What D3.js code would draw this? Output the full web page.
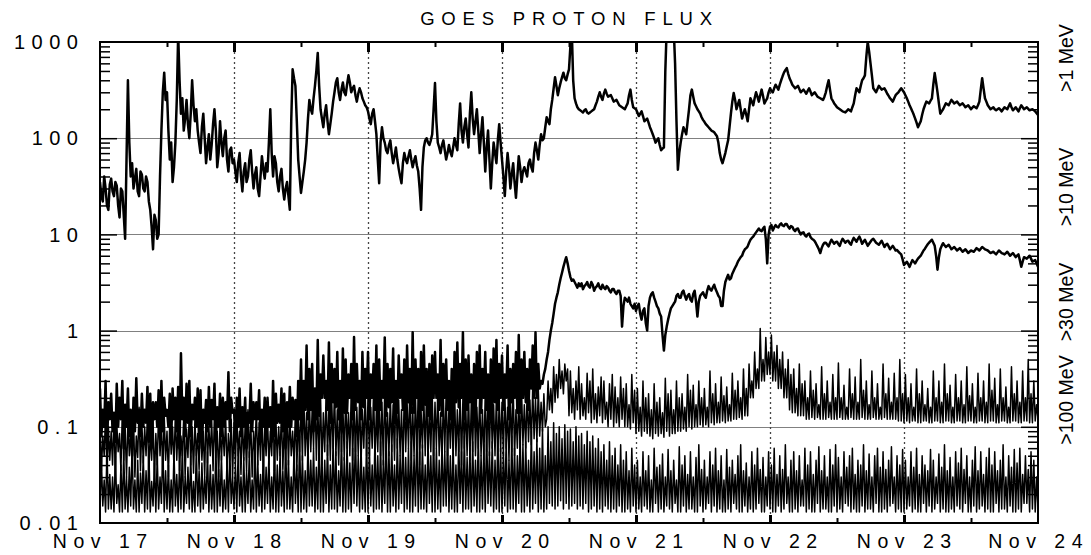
<!DOCTYPE html>
<html><head><meta charset="utf-8">
<script src="https://cdn.jsdelivr.net/npm/d3@7"></script>
<style>body{margin:0;background:#fff}svg{display:block}</style>
</head><body>
<svg id="c" width="1091" height="555"></svg>
<script>
// ---- data (15-minute samples from Nov 17 00:00 UT) ----
const startTime = new Date(Date.UTC(2001, 10, 17));
const stepMinutes = 15;
const dayLabels = ["Nov 17","Nov 18","Nov 19","Nov 20","Nov 21","Nov 22","Nov 23","Nov 24"];
const yTickValues = [1000, 100, 10, 1, 0.1, 0.01];
const yTickLabels = ["1000", "100", "10", "1", "0.1", "0.01"];
const channelLabels = [">1 MeV", ">10 MeV", ">30 MeV", ">100 MeV"];
const titleText = "GOES PROTON FLUX";

const flux1MeV = [
35,25,22,40,30,20,18,33,38,28,25,35,32,20,15,30,28,16,9,60,400,90,40,55,30,38,48,28,25,45,42,30,28,40,35,22,18,12,7,16,14,9,10,40,120,300,480,250,300,120,60,90,35,50,90,250,1200,400,180,260,120,160,250,140,100,180,400,220,150,200,120,90,70,130,180,100,55,80,110,60,85,140,200,120,50,70,150,90,65,100,120,60,45,75,80,55,
60,45,35,55,70,40,28,45,55,35,40,60,75,45,30,42,50,30,25,40,65,48,38,55,45,90,200,70,40,65,55,35,28,40,48,30,23,30,35,25,18,150,520,420,350,150,60,40,27,35,45,60,90,160,250,200,180,260,350,500,770,350,200,160,130,180,220,150,110,140,180,240,300,380,420,300,250,320,380,300,280,360,450,380,300,330,350,280,240,290,330,300,260,240,220,210,
190,160,140,180,200,150,110,60,34,90,130,100,90,75,70,85,95,70,55,65,80,60,48,40,34,55,70,60,55,65,75,60,50,58,65,52,45,30,18,50,80,95,100,90,85,95,110,200,375,150,90,80,70,85,95,75,60,70,85,72,65,80,100,85,75,140,230,120,90,130,160,110,80,180,300,160,110,150,200,120,70,110,165,90,45,80,120,60,30,55,90,70,55,95,140,90,
60,40,25,45,70,50,30,42,55,35,24,40,65,50,35,45,50,45,40,55,60,50,45,70,90,75,60,85,110,95,100,130,165,150,140,200,250,330,430,350,280,330,380,430,480,420,400,460,520,900,1300,400,260,230,210,200,195,190,185,195,200,185,180,185,190,195,200,220,240,270,300,270,250,290,320,290,270,275,280,260,240,245,250,235,220,215,210,205,200,215,230,280,320,250,210,205,
200,185,170,180,190,170,150,155,160,145,130,120,110,100,90,95,100,85,75,78,80,500,1400,1400,1400,1400,1400,1400,600,150,47,70,90,110,130,120,110,150,200,280,320,270,230,215,200,190,180,165,155,148,140,135,130,125,120,118,115,110,105,90,70,60,55,62,70,82,95,130,180,240,295,250,200,225,250,200,160,180,200,175,150,200,260,240,220,260,300,270,240,280,320,275,230,245,260,300,
330,310,300,330,360,340,320,360,400,440,480,510,535,470,420,390,360,345,330,340,350,325,300,310,320,305,290,310,330,305,280,290,300,285,270,265,260,255,250,270,300,350,400,320,260,245,230,220,210,205,200,195,190,188,185,192,200,195,190,210,230,280,330,315,300,350,400,420,450,700,1000,800,600,450,330,315,300,325,350,335,320,325,330,310,290,275,260,250,240,260,280,290,300,315,330,315,
300,280,260,240,220,205,190,175,160,145,130,140,150,175,200,220,240,235,230,245,260,360,475,380,300,230,180,190,200,215,230,225,220,235,250,240,230,235,240,230,220,225,230,220,210,215,220,210,200,208,215,210,205,220,240,320,420,330,260,240,220,210,200,205,210,200,195,200,205,198,190,200,210,205,200,215,230,210,195,202,210,200,190,205,220,210,200,205,210,202,195,198,200,195,190,182,
175
];
const flux10MeV = [
.25,.08,.15,.1,.3,.06,.18,.12, .22,.09,.14,.07,.28,.1,.2,.12, .3,.06,.17,.1,.25,.08,.15,.05, .2,.09,.32,.11,.15,.08,.22,.1,
.15,.11,.26,.07,.22,.06,.18,.12, .18,.1,.24,.08,.3,.09,.2,.13, .15,.1,.22,.07,.25,.12,.2,.09, .26,.06,.58,.12,.2,.08,.28,.11,
.3,.08,.17,.12,.2,.1,.25,.07, .24,.06,.15,.11,.19,.09,.26,.1, .19,.12,.28,.07,.16,.1,.22,.08, .2,.1,.18,.12,.37,.09,.2,.14,
.15,.07,.2,.1,.25,.08,.16,.1, .2,.06,.14,.11,.28,.09,.18,.12, .18,.12,.24,.07,.15,.1,.2,.08, .2,.1,.16,.07,.3,.08,.22,.11,
.17,.11,.25,.09,.22,.06,.18,.1, .26,.1,.2,.12,.19,.08,.3,.12, .5,.1,.3,.15,.7,.12,.4,.15, .45,.09,.25,.12,.8,.13,.35,.2,
.55,.2,.3,.15,.75,.11,.45,.18, .4,.16,.6,.12,.3,.1,.65,.14, .5,.14,.35,.2,.45,.12,.86,.15, .45,.18,.3,.12,.6,.16,.4,.2,
.6,.12,.35,.2,.45,.15,.7,.1, .5,.15,.3,.2,.85,.13,.45,.16, .4,.18,.65,.11,.3,.14,.55,.2, .35,.15,.5,.12,.7,.18,.4,.14,
.96,.14,.5,.2,.4,.1,.6,.15, .7,.17,.4,.13,.45,.12,.55,.2, .6,.2,.35,.15,.8,.13,.45,.2, .5,.15,.3,.12,.4,.11,.6,.18,
.75,.16,.45,.2,.96,.12,.5,.15, .55,.18,.35,.12,.45,.1,.6,.2, .7,.14,.4,.2,.6,.15,.35,.12, .5,.12,.65,.18,.8,.15,.45,.2,
.55,.15,.35,.2,.7,.12,.4,.18, .45,.2,.6,.14,.9,.14,.5,.2, .6,.18,.4,.15,.5,.25,.7,.2, .96,.2,.45,.25,.3,.28,.35,.4,
.5,.6,.8,1.0,1.2,1.5,1.9,2.2, 2.5,3.0,3.5,4.0,4.6,5.2,5.8,5.0, 4.2,3.6,3.3,3.4,3.2,3.0,2.8,3.1, 2.9,3.1,2.7,2.9,3.0,3.2,2.9,2.8,
3.2,3.0,2.6,2.8,2.9,3.1,2.8,2.7, 3.0,2.8,2.7,2.9,2.8,2.6,2.5,2.7, 2.7,2.5,2.4,2.6,2.6,2.3,1.1,1.8, 2.2,2.1,2.0,2.2,1.9,1.8,1.7,1.9,
1.6,1.8,1.9,1.5,1.3,1.6,1.7,1.2, 1.0,1.8,2.2,2.4,2.5,2.2,2.0,1.8, 1.7,1.5,1.4,0.9,0.62,0.9,1.1,1.3, 1.5,1.7,1.8,1.9,2.0,2.3,2.4,2.2,
2.2,2.5,2.6,2.3,2.1,2.3,2.4,2.1, 2.0,2.4,2.6,2.0,1.4,2.0,2.3,2.4, 2.5,2.3,2.2,2.6,2.9,2.7,2.6,2.8, 3.0,2.7,2.5,2.3,2.2,1.8,1.8,2.6,
3.2,3.5,3.8,3.4,3.5,3.9,4.2,4.5, 4.8,5.2,5.5,5.8,6.0,6.6,7.0,7.2, 7.5,8.2,8.8,9.2,9.5,10.0,10.5,11.0, 11.5,11.0,10.8,11.5,12.0,9.0,5.0,10.0,
12,12.5,11,11.8,12.5,12,11.8,12.6, 13,12.4,12.2,12.8,12.8,12,11.5,12.2, 12,11.2,10.8,11.4,11.5,10.6,10,10.4, 10.5,9.8,9.5,10,10.2,9.4,9,8.8,
8.5,8,7.5,7,6.4,7.2,7.8,8.2, 8.2,7.8,7.5,8.2,8.8,8.4,8,8.3, 8.4,7.9,7.6,8.4,9,8.6,8.2,8.5, 8.6,8.1,7.8,8.6,9.2,8.8,8.4,9,
9.5,8.8,8,8.4,8.8,8.2,7.6,8, 8.4,8.8,9,8.6,8.2,8,7.8,8.2, 8.6,8,7.4,7.8,8,7.5,7,7.3, 7.6,7.2,6.8,6.9,6.6,6.4,6.2,5.5,
4.8,5.0,5.2,4.9,4.6,5.0,5.4,5.2, 5.0,5.3,5.6,5.8,6.0,6.4,6.8,7.1, 7.5,7.9,8.2,8.5,8.8,8.2,7.6,6.0, 4.3,5.8,7.0,7.6,8.1,7.7,7.4,7.6,
7.8,7.4,7.0,7.2,7.4,7.1,6.8,7.0, 7.2,6.9,6.6,6.8,7.0,6.7,6.4,6.6, 6.8,6.7,6.6,6.9,7.2,7.0,6.8,7.1, 7.4,7.2,7.0,6.9,6.8,6.6,6.4,6.5,
6.6,6.4,6.2,6.5,6.8,6.6,6.4,6.3, 6.2,6.4,6.6,6.3,6.0,6.2,6.4,6.1, 5.8,6.0,6.2,5.4,4.6,5.2,5.8,5.7, 5.6,5.8,6.0,5.6,5.2,5.3,5.4,5.0,
4.6
];
const flux30MeV = [
.12,.035,.08,.05,.14,.03,.1,.045, .09,.04,.13,.028,.11,.055,.085,.035, .15,.045,.1,.03,.12,.05,.09,.038, .13,.03,.08,.048,.16,.035,.11,.042,
.1,.05,.14,.032,.09,.045,.12,.028, .085,.04,.15,.05,.11,.033,.13,.045, .09,.03,.12,.052,.1,.038,.14,.045, .11,.035,.08,.05,.13,.03,.095,.048,
.15,.04,.1,.033,.12,.05,.085,.036, .13,.045,.09,.03,.16,.042,.1,.05, .12,.035,.14,.048,.09,.03,.11,.045, .1,.05,.13,.034,.085,.045,.12,.03,
.11,.04,.14,.05,.09,.032,.13,.045, .1,.035,.15,.048,.12,.03,.09,.05, .16,.04,.11,.045,.14,.033,.1,.05, .13,.04,.09,.05,.15,.035,.12,.045,
.1,.05,.14,.036,.11,.045,.16,.04, .13,.05,.09,.042,.15,.035,.12,.055, .18,.045,.22,.05,.14,.04,.2,.055, .15,.06,.25,.045,.17,.05,.21,.04,
.14,.055,.23,.05,.16,.045,.19,.06, .25,.05,.15,.04,.2,.055,.17,.045, .22,.06,.14,.05,.24,.045,.18,.055, .16,.05,.21,.04,.15,.06,.23,.05,
.2,.05,.16,.06,.24,.045,.15,.055, .21,.05,.18,.04,.26,.06,.14,.05, .22,.055,.17,.045,.25,.06,.19,.05, .15,.04,.23,.055,.18,.06,.27,.045,
.16,.05,.21,.055,.24,.04,.15,.06, .2,.05,.26,.045,.17,.055,.22,.05, .18,.06,.25,.05,.14,.045,.21,.055, .23,.05,.16,.06,.19,.045,.26,.05,
.15,.055,.22,.04,.2,.06,.17,.05, .24,.045,.18,.055,.27,.05,.16,.06, .21,.05,.15,.045,.23,.055,.19,.05, .25,.06,.17,.05,.22,.045,.2,.055,
.18,.05,.24,.06,.16,.045,.22,.055, .27,.05,.15,.06,.2,.055,.25,.065, .17,.06,.23,.07,.19,.065,.26,.075, .2,.07,.25,.08,.18,.09,.22,.1,
.12,.3,.15,.25,.14,.42,.18,.35, .2,.5,.25,.38,.22,.45,.3,.4, .13,.38,.14,.25,.12,.3,.15,.42, .12,.28,.13,.2,.12,.36,.14,.3,
.11,.4,.12,.22,.11,.26,.13,.33, .11,.3,.12,.18,.1,.28,.12,.35, .1,.26,.11,.2,.1,.33,.12,.25, .1,.28,.1,.17,.095,.35,.11,.24,
.085,.25,.09,.16,.08,.3,.09,.2, .085,.22,.08,.15,.075,.28,.085,.18, .08,.2,.085,.14,.078,.32,.09,.22, .08,.24,.085,.15,.085,.3,.09,.2,
.09,.22,.095,.16,.09,.35,.1,.24, .095,.27,.1,.17,.1,.3,.105,.2, .1,.25,.105,.16,.1,.38,.11,.22, .105,.28,.11,.18,.11,.33,.115,.21,
.11,.26,.115,.17,.115,.36,.12,.24, .12,.3,.125,.2,.12,.4,.13,.25, .13,.45,.2,.3,.2,.6,.25,.4, .25,1.05,.3,.5,.3,.85,.35,.6,
.35,.9,.3,.6,.3,.7,.25,.5, .25,.6,.2,.4,.2,.5,.15,.35, .14,.4,.14,.25,.13,.45,.13,.28, .13,.3,.12,.2,.12,.38,.125,.24,
.12,.28,.125,.17,.12,.42,.12,.22, .12,.3,.125,.18,.12,.35,.12,.2, .12,.46,.125,.2,.12,.27,.12,.16, .12,.4,.125,.22,.12,.33,.12,.18,
.12,.5,.125,.24,.12,.3,.12,.17, .12,.38,.125,.2,.12,.28,.12,.16, .12,.45,.125,.22,.12,.32,.12,.18, .12,.36,.12,.2,.115,.5,.115,.22,
.11,.35,.115,.2,.11,.28,.115,.16, .115,.4,.11,.22,.11,.3,.115,.17, .115,.25,.11,.16,.11,.38,.115,.2, .115,.3,.11,.18,.11,.45,.115,.22,
.115,.27,.11,.16,.11,.35,.115,.2, .115,.3,.11,.17,.11,.42,.115,.21, .115,.28,.11,.16,.11,.36,.115,.2, .115,.3,.11,.18,.11,.45,.115,.24,
.115,.32,.11,.17,.11,.4,.115,.2, .115,.26,.11,.16,.11,.42,.115,.22, .115,.3,.11,.18,.11,.38,.115,.2, .115,.5,.11,.22,.11,.3,.115,.17,
.12
];
const flux100MeV = [
.013,.045,.015,.028,.013,.06,.014,.032, .014,.03,.013,.05,.016,.025,.013,.04, .013,.055,.014,.03,.013,.038,.015,.065, .014,.028,.013,.045,.013,.033,.016,.05,
.013,.035,.014,.06,.013,.027,.015,.042, .013,.05,.014,.03,.016,.07,.013,.035, .014,.04,.013,.028,.013,.055,.015,.032, .013,.045,.014,.065,.013,.03,.016,.038,
.014,.05,.013,.027,.013,.06,.015,.035, .013,.042,.014,.03,.016,.055,.013,.04, .014,.032,.013,.065,.013,.036,.015,.05, .013,.028,.014,.045,.013,.058,.016,.03,
.014,.04,.013,.06,.015,.03,.013,.048, .013,.035,.016,.055,.013,.028,.014,.07, .013,.045,.015,.032,.013,.06,.014,.038, .016,.05,.013,.03,.014,.065,.013,.04,
.013,.055,.015,.035,.013,.075,.014,.045, .014,.03,.013,.06,.016,.04,.013,.08, .013,.05,.014,.035,.013,.07,.015,.045, .015,.06,.013,.038,.014,.085,.013,.05,
.013,.045,.016,.065,.013,.04,.014,.075, .014,.055,.013,.035,.015,.08,.013,.048, .013,.07,.014,.042,.013,.06,.016,.09, .015,.05,.013,.065,.014,.038,.013,.075,
.013,.06,.015,.04,.013,.08,.014,.05, .014,.07,.013,.045,.016,.09,.013,.055, .013,.065,.015,.04,.013,.075,.014,.05, .016,.085,.013,.048,.014,.06,.013,.07,
.013,.05,.015,.095,.013,.055,.014,.065, .014,.04,.013,.075,.016,.05,.013,.085, .013,.06,.014,.045,.013,.07,.015,.055, .015,.09,.013,.05,.014,.065,.013,.04,
.013,.075,.016,.055,.013,.08,.014,.048, .014,.06,.013,.07,.015,.045,.013,.085, .013,.05,.014,.065,.013,.09,.016,.055, .015,.07,.013,.045,.014,.08,.013,.06,
.013,.055,.015,.075,.013,.045,.014,.08, .014,.06,.013,.05,.016,.085,.013,.065, .013,.07,.015,.045,.013,.09,.014,.055, .016,.075,.013,.06,.014,.095,.013,.05,
.014,.1,.016,.07,.015,.11,.014,.085, .015,.1,.017,.075,.014,.105,.016,.09, .014,.095,.015,.07,.016,.1,.014,.08, .015,.085,.014,.065,.016,.09,.013,.07,
.014,.08,.015,.06,.013,.075,.014,.055, .013,.065,.015,.045,.014,.07,.013,.05, .014,.06,.013,.04,.015,.065,.013,.045, .013,.055,.014,.035,.013,.06,.015,.04,
.013,.045,.014,.03,.013,.055,.015,.035, .014,.05,.013,.028,.013,.06,.016,.038, .013,.04,.014,.052,.013,.03,.015,.058, .014,.035,.013,.045,.016,.028,.013,.062,
.013,.04,.015,.05,.013,.032,.014,.055, .014,.03,.013,.048,.013,.065,.015,.036, .013,.045,.014,.03,.016,.055,.013,.04, .015,.06,.013,.035,.014,.05,.013,.028,
.013,.058,.014,.038,.013,.045,.016,.032, .014,.05,.013,.065,.013,.035,.015,.042, .013,.03,.014,.055,.013,.04,.014,.06, .016,.036,.013,.048,.013,.03,.015,.055,
.014,.04,.013,.06,.013,.032,.015,.05, .013,.036,.014,.065,.016,.03,.013,.045, .013,.055,.014,.035,.013,.05,.015,.028, .015,.06,.013,.04,.014,.055,.013,.032,
.013,.045,.016,.062,.013,.035,.014,.05, .014,.03,.013,.058,.013,.04,.015,.065, .013,.048,.014,.03,.013,.055,.016,.038, .015,.05,.013,.06,.014,.032,.013,.045,
.013,.04,.015,.065,.013,.035,.014,.052, .014,.03,.013,.05,.016,.06,.013,.038, .013,.055,.014,.036,.013,.045,.015,.062, .016,.03,.013,.05,.014,.04,.013,.058,
.013,.045,.014,.03,.015,.055,.013,.038, .014,.06,.013,.032,.013,.05,.016,.04, .013,.035,.015,.058,.013,.045,.014,.03, .016,.052,.013,.038,.014,.065,.013,.035,
.013,.048,.014,.03,.013,.055,.015,.042, .014,.06,.013,.036,.016,.05,.013,.03, .013,.045,.015,.062,.013,.035,.014,.055, .015,.032,.013,.048,.014,.06,.013,.04,
.013,.055,.016,.035,.013,.045,.014,.065, .014,.03,.013,.05,.015,.038,.013,.058, .013,.042,.014,.06,.013,.032,.016,.05, .016,.036,.013,.055,.014,.045,.013,.03,
.014
];
const seriesList = [flux1MeV, flux10MeV, flux30MeV, flux100MeV];

// ---- layout ----
const L = 100, R = 1038, T = 42, B = 523;
const FONT = "'Liberation Sans', Arial, Helvetica, sans-serif";
const svg = d3.select("#c");
svg.append("rect").attr("width",1091).attr("height",555).attr("fill","#fff");

const x = d3.scaleUtc().domain([startTime, d3.utcDay.offset(startTime, 7)]).range([L, R]);
const y = d3.scaleLog().domain([0.01, 1000]).range([B, T]);
const timeAt = i => new Date(startTime.getTime() + i * stepMinutes * 60000);
const days = d3.utcDay.range(startTime, d3.utcDay.offset(startTime, 8));
const halfDays = d3.utcHour.every(12).range(startTime, d3.utcDay.offset(startTime, 7)).filter(d => d.getUTCHours() === 12);

// horizontal grid
svg.append("g").selectAll("line").data([100, 10, 1, 0.1]).join("line")
  .attr("x1", L).attr("x2", R)
  .attr("y1", d => Math.round(y(d)) + 0.5).attr("y2", d => Math.round(y(d)) + 0.5)
  .attr("stroke", "#808080").attr("stroke-width", 1.2);

// vertical dotted grid
svg.append("g").selectAll("line").data(days.slice(1, 7)).join("line")
  .attr("x1", d => Math.round(x(d)) + 0.5).attr("x2", d => Math.round(x(d)) + 0.5)
  .attr("y1", T).attr("y2", B)
  .attr("stroke", "#444").attr("stroke-width", 1.3).attr("stroke-dasharray", "2,3");

// data
svg.append("clipPath").attr("id", "plotclip").append("rect")
  .attr("x", L).attr("y", T).attr("width", R - L).attr("height", B - T);
const line = d3.line().x((v, i) => x(timeAt(i))).y(v => y(v));
const widths = [2.5, 2.5, 1.5, 1.5];
svg.append("g").attr("clip-path", "url(#plotclip)")
  .selectAll("path").data(seriesList).join("path")
  .attr("d", d => line(d))
  .attr("fill", "none").attr("stroke", "#000")
  .attr("stroke-width", (d, i) => widths[i])
  .attr("stroke-linejoin", "round");

// ticks
const minorVals = [];
for (let e = -2; e < 3; e++) for (let m = 2; m < 10; m++) minorVals.push(m * Math.pow(10, e));
const majorVals = [0.1, 1, 10, 100];
function strip(g) { g.select(".domain").remove(); g.selectAll("text").remove(); }
function styleTicks(g, w) { g.selectAll(".tick line").attr("stroke", "#000").attr("stroke-width", w); }

svg.append("g").attr("transform", `translate(${L},0)`)
  .call(d3.axisLeft(y).tickValues(minorVals).tickSize(-10).tickFormat(""))
  .call(strip).call(g => styleTicks(g, 1.5));
svg.append("g").attr("transform", `translate(${L},0)`)
  .call(d3.axisLeft(y).tickValues(majorVals).tickSize(-17).tickFormat(""))
  .call(strip).call(g => styleTicks(g, 1.5));
svg.append("g").attr("transform", `translate(${R},0)`)
  .call(d3.axisRight(y).tickValues(minorVals).tickSize(-10).tickFormat(""))
  .call(strip).call(g => styleTicks(g, 1.5));
svg.append("g").attr("transform", `translate(${R},0)`)
  .call(d3.axisRight(y).tickValues(majorVals).tickSize(-17).tickFormat(""))
  .call(strip).call(g => styleTicks(g, 1.5));

svg.append("g").attr("transform", `translate(0,${T})`)
  .call(d3.axisTop(x).tickValues(days.slice(1, 7)).tickSize(-10).tickFormat(""))
  .call(strip).call(g => styleTicks(g, 3));
svg.append("g").attr("transform", `translate(0,${T})`)
  .call(d3.axisTop(x).tickValues(halfDays).tickSize(-5).tickFormat(""))
  .call(strip).call(g => styleTicks(g, 2));
svg.append("g").attr("transform", `translate(0,${B})`)
  .call(d3.axisBottom(x).tickValues(days.slice(1, 7)).tickSize(-8).tickFormat(""))
  .call(strip).call(g => styleTicks(g, 3));
svg.append("g").attr("transform", `translate(0,${B})`)
  .call(d3.axisBottom(x).tickValues(halfDays).tickSize(-5).tickFormat(""))
  .call(strip).call(g => styleTicks(g, 2));

// frame
svg.append("rect").attr("x", L).attr("y", T).attr("width", R - L).attr("height", B - T)
  .attr("fill", "none").attr("stroke", "#000").attr("stroke-width", 2);

// labels
const YLS = 6.5;
svg.append("g").selectAll("text").data(yTickValues).join("text")
  .attr("x", 78 + YLS).attr("y", d => y(d)).attr("dy", "0.36em")
  .attr("text-anchor", "end").attr("font-family", FONT).attr("font-size", 20)
  .style("letter-spacing", YLS + "px").attr("fill", "#000")
  .text((d, i) => yTickLabels[i]);

const XLS = 6.5;
svg.append("g").selectAll("text").data(days).join("text")
  .attr("x", d => x(d) + XLS / 2).attr("y", 548)
  .attr("text-anchor", "middle").attr("font-family", FONT).attr("font-size", 19.5)
  .style("letter-spacing", XLS + "px").attr("fill", "#000")
  .text((d, i) => dayLabels[i])
  .each(function () {
    const b = this.getBBox();
    const over = b.x + b.width - 1089;
    if (over > 0) d3.select(this).attr("x", +d3.select(this).attr("x") - over);
  });

svg.append("text").attr("x", 566 + 3.5).attr("y", 25)
  .attr("text-anchor", "middle").attr("font-family", FONT).attr("font-size", 18.5)
  .style("letter-spacing", "6.8px").attr("fill", "#000").text(titleText);

const channelCenters = [58, 187, 302, 400];
svg.append("g").selectAll("text").data(channelLabels).join("text")
  .attr("transform", (d, i) => `translate(1073,${channelCenters[i]}) rotate(-90)`)
  .attr("text-anchor", "middle").attr("font-family", FONT).attr("font-size", 19.5)
  .attr("fill", "#000").text(d => d);
</script>
</body></html>
